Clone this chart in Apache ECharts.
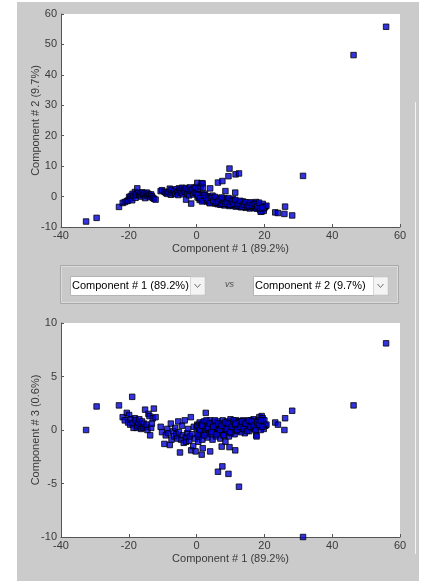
<!DOCTYPE html>
<html>
<head>
<meta charset="utf-8">
<script src="https://cdn.jsdelivr.net/npm/echarts@6/dist/echarts.min.js"></script>
<style>
  html, body { margin: 0; padding: 0; background: #ffffff; }
  #wrap { position: relative; width: 425px; height: 581px; overflow: hidden; }
  #panel { position: absolute; left: 17px; top: 2px; width: 402px; height: 579px; background: #cbcbcb; }
  #chart { position: absolute; left: 0; top: 0; width: 425px; height: 581px; }
</style>
</head>
<body>
<div id="wrap">
  <div id="panel"></div>
  <div id="chart"></div>
</div>
<script>
// Principal component labels (explained variance in brackets)
const componentNames = ['Component # 1 (89.2%)', 'Component # 2 (9.7%)', 'Component # 3 (0.6%)'];

// Score rows: [PC1, PC2, PC3]
const leftGroup = [
  [-22.9,-3.4,2.3],[-21.8,-2.1,1.2],[-21.2,-1.8,0.9],[-20.6,-1.5,1.6],[-20.2,-1.3,0.7],
  [-19.9,-0.1,1.4],[-19.6,-0.6,0.5],[-19.4,0.2,1.0],[-19.0,-1.2,3.1],[-18.9,0.9,0.6],
  [-18.6,0.3,0.2],[-18.2,1.5,1.1],[-18.0,-0.4,0.9],[-17.7,0.7,0.2],[-17.5,2.7,0.4],
  [-17.2,1.2,0.7],[-16.9,0.4,1.0],[-16.7,1.0,0.3],[-16.4,0.0,0.1],[-16.1,1.4,0.8],
  [-15.8,0.6,0.2],[-15.5,1.1,0.6],[-15.2,-0.5,1.9],[-15.0,0.8,0.3],[-14.7,1.3,0.5],
  [-14.5,0.2,0.0],[-14.2,0.9,1.5],[-13.9,0.5,1.3],[-13.7,-0.2,-0.5],[-13.4,0.7,0.2],
  [-13.2,0.1,0.6],[-12.9,-0.4,1.1],[-12.6,-0.7,2.0],[-12.1,-1.0,1.2]
];

const middleGroup = [
  [-10.6,1.8,0.3],[-10.2,2.1,-0.2],[-9.5,1.6,-1.3],[-9.1,1.2,-0.5],[-8.7,0.9,0.1],
  [-8.3,1.5,-0.3],[-7.9,2.6,-1.4],[-7.6,0.6,0.6],[-7.4,2.2,-0.9],[-7.0,1.1,-0.1],
  [-6.6,1.8,-0.6],[-6.3,0.8,0.2],[-6.0,2.4,-0.4],[-5.7,1.4,-0.8],[-5.4,0.5,0.8],
  [-5.2,2.7,-0.2],[-4.9,1.9,-2.1],[-4.6,1.2,-0.9],[-4.3,2.9,0.4],[-4.1,0.8,-0.5],
  [-3.8,2.3,-1.2],[-3.5,1.6,0.9],[-3.2,2.8,-0.7],[-3.1,-1.0,-1.1],[-2.8,1.0,-0.3],
  [-2.5,2.5,0.1],[-2.2,0.4,-1.0],[-2.0,3.0,-0.6],[-1.7,1.9,1.2],[-1.6,-2.3,-1.9],
  [-1.3,2.2,-0.4],[-1.0,0.7,-1.5],[-0.8,2.7,0.3],[-0.5,1.3,-0.8],[-0.3,3.1,-2.0],
  [0.0,1.0,0.2],[0.2,4.5,0.5],[0.5,2.6,-1.1],[0.8,-0.4,0.0],[1.2,3.3,-0.5],
  [1.5,4.4,-2.3],[1.8,4.3,-1.7],[1.9,2.9,0.7]
];

const mainBand = [
  [0.3,-0.3,0.4],[0.6,0.8,-0.6],[0.9,-1.1,0.7],[1.1,0.2,-0.2],[1.4,-0.7,0.5],
  [1.7,0.6,-0.9],[2.0,-1.3,0.3],[2.2,-0.1,0.8],[2.5,0.9,-0.3],[2.7,-0.8,1.6],
  [3.0,-1.6,0.1],[3.2,0.1,-0.7],[3.5,-0.6,0.6],[3.7,-1.9,-0.2],[4.0,-0.2,0.9],
  [4.2,-1.2,-0.4],[4.5,-2.0,0.3],[4.7,0.3,-0.9],[5.0,-0.9,0.7],[5.2,-1.7,-0.1],
  [5.5,-2.3,0.5],[5.7,-0.4,-0.6],[6.0,-1.3,0.2],[6.2,-2.5,0.8],[6.5,-0.7,-0.3],
  [6.7,-1.9,0.4],[7.0,-2.7,-0.8],[7.2,-1.0,0.6],[7.5,-1.6,-0.2],[7.7,-2.2,0.9],
  [8.0,-0.6,0.1],[8.2,-2.9,-0.5],[8.5,-1.4,0.5],[8.7,-2.1,-0.1],[9.0,-0.9,0.8],
  [9.2,-2.6,0.2],[9.5,-1.7,-0.6],[9.7,-3.1,0.4],[10.0,-1.2,1.0],[10.2,-2.3,-0.3],
  [10.5,-2.9,0.6],[10.7,-0.8,0.1],[11.0,-1.9,0.7],[11.2,-2.6,-0.4],[11.5,-3.3,0.3],
  [11.7,-1.5,0.9],[12.0,-2.2,-0.1],[12.2,-3.0,0.5],[12.5,-1.8,0.2],[12.7,-2.7,0.8],
  [13.0,-3.5,-0.2],[13.2,-2.0,0.6],[13.5,-2.9,0.1],[13.7,-1.6,0.9],[14.0,-3.2,0.4],
  [14.2,-2.4,-0.3],[14.5,-3.7,0.7],[14.7,-2.0,0.2],[15.0,-2.8,0.8],[15.2,-3.4,0.3],
  [15.5,-2.3,-0.1],[15.7,-3.9,0.6],[16.0,-2.6,0.9],[16.2,-3.3,0.2],[16.5,-2.1,0.5],
  [16.8,-3.7,1.0],[17.0,-2.9,0.1],[17.3,-3.4,0.7],[17.6,-1.8,-0.5],[17.7,-4.0,-0.6],
  [18.0,-2.6,0.4],[18.2,-3.6,0.9],[18.5,-3.0,1.2],[18.7,-4.3,0.3],[19.0,-3.3,0.8],
  [19.2,-4.9,1.3],[19.5,-2.4,1.1],[19.7,-4.1,0.6],[20.0,-3.7,0.9],[20.3,-3.3,0.4],
  [20.6,-3.0,0.5],[19.8,-4.7,0.1],[18.9,-5.0,0.0],
  [0.4,0.5,-0.4],[1.0,-0.5,0.0],[1.6,-1.6,0.4],[2.3,0.4,-0.5],[2.9,-0.4,0.9],
  [3.4,-1.1,0.2],[3.9,-2.2,0.6],[4.4,-0.5,-0.2],[4.9,-1.4,0.3],[5.4,-0.1,0.9],
  [5.9,-2.0,-0.4],[6.4,-1.6,0.6],[6.9,-0.9,0.0],[7.4,-2.4,0.4],[7.9,-1.3,-0.5],
  [8.4,-2.4,0.7],[8.9,-1.8,0.1],[9.4,-0.5,0.6],[9.9,-2.7,-0.2],[10.4,-1.6,0.3],
  [10.9,-2.4,0.9],[11.4,-1.1,0.5],[11.9,-2.9,0.0],[12.4,-2.4,0.7],[12.9,-1.4,0.3],
  [13.4,-3.4,0.8],[13.9,-2.6,0.1],[14.4,-1.9,0.6],[14.9,-3.3,-0.1],[15.4,-2.9,0.9],
  [15.9,-1.9,0.3],[16.4,-2.9,0.8],[16.9,-2.4,0.4],[17.4,-2.5,0.0],[17.9,-3.2,0.7],
  [18.4,-2.0,0.5],[18.9,-3.9,0.9],[19.4,-3.6,0.3]
];

const outliers = [
  [-32.6,-8.2,0.0],[-29.5,-7.0,2.2],[4.0,2.7,-2.0],[6.3,4.6,-3.9],[7.6,5.1,-3.4],
  [8.5,1.8,-1.1],[9.4,6.7,-4.1],[9.7,9.2,-1.6],[11.5,7.3,0.6],[12.5,7.6,-5.3],
  [11.4,1.3,-1.9],[7.4,-0.3,-1.55],[23.2,-5.2,0.7],[24.0,-5.4,0.5],[26.1,-3.3,1.1],
  [25.9,-5.7,0.0],[28.2,-6.2,1.8],[31.4,6.8,-10.0],[46.3,46.5,2.3],[55.9,55.8,8.1]
];

const scores = leftGroup.concat(middleGroup, mainBand, outliers);

// Axis ranges
const pc1Range = { min: -40, max: 60, interval: 20 };
const pc2Range = { min: -10, max: 60, interval: 10 };
const pc3Range = { min: -10, max: 10, interval: 5 };

const FONT = 'Liberation Sans, Arial, sans-serif';
const axisColor = '#555555';
const labelColor = '#3a3a3a';

function valueAxis(range, name, gridIndex, isY) {
  return {
    type: 'value',
    gridIndex: gridIndex,
    min: range.min, max: range.max, interval: range.interval,
    name: name,
    nameLocation: 'middle',
    nameGap: isY ? 20 : 16,
    nameMoveOverlap: false,
    nameTextStyle: { fontFamily: FONT, fontSize: 11, color: labelColor },
    axisLine: { show: true, onZero: false, lineStyle: { color: axisColor, width: 1 } },
    axisTick: { show: true, inside: true, length: 3, lineStyle: { color: axisColor } },
    axisLabel: { fontFamily: FONT, fontSize: 11, color: labelColor, margin: isY ? 4 : 3 },
    splitLine: { show: false }
  };
}

const markerStyle = { color: '#0000d8', borderColor: '#000000', borderWidth: 1 };

const chart = echarts.init(document.getElementById('chart'), null, { renderer: 'canvas' });

// Selector bar between the two plots
const selector = [
  { type: 'rect', shape: { x: 60.5, y: 265.5, width: 338, height: 38 },
    style: { fill: '#c9c9c9', stroke: '#a9a9a9', lineWidth: 1 } },
  { type: 'rect', shape: { x: 61.5, y: 266.5, width: 336, height: 36 },
    style: { fill: 'none', stroke: '#dcdcdc', lineWidth: 1 } },
  // first dropdown
  { type: 'rect', shape: { x: 70.5, y: 276.5, width: 135, height: 19 },
    style: { fill: '#ffffff', stroke: '#b4b4b4', lineWidth: 1 } },
  { type: 'rect', shape: { x: 190.5, y: 277, width: 14.5, height: 18 },
    style: { fill: '#f4f4f4', stroke: '#d8d8d8', lineWidth: 1 } },
  { type: 'polyline', shape: { points: [[194.5, 284], [197.5, 287.5], [200.5, 284]] },
    style: { stroke: '#707070', lineWidth: 1, fill: 'none' } },
  { type: 'text', x: 72, y: 286,
    style: { text: componentNames[0], fontFamily: FONT, fontSize: 11, fill: '#000', verticalAlign: 'middle' } },
  // "vs"
  { type: 'text', x: 229.5, y: 284,
    style: { text: 'vs', fontFamily: FONT, fontSize: 9, fontStyle: 'italic', fill: '#505050',
             align: 'center', verticalAlign: 'middle' } },
  // second dropdown
  { type: 'rect', shape: { x: 253.5, y: 276.5, width: 135, height: 19 },
    style: { fill: '#ffffff', stroke: '#b4b4b4', lineWidth: 1 } },
  { type: 'rect', shape: { x: 373.5, y: 277, width: 14.5, height: 18 },
    style: { fill: '#f4f4f4', stroke: '#d8d8d8', lineWidth: 1 } },
  { type: 'polyline', shape: { points: [[377.5, 284], [380.5, 287.5], [383.5, 284]] },
    style: { stroke: '#707070', lineWidth: 1, fill: 'none' } },
  { type: 'text', x: 255, y: 286,
    style: { text: componentNames[1], fontFamily: FONT, fontSize: 11, fill: '#000', verticalAlign: 'middle' } },
  // scroll pane edge on the right
  { type: 'line', shape: { x1: 415.5, y1: 102, x2: 415.5, y2: 554 },
    style: { stroke: '#f4f4f4', lineWidth: 1 } }
];

chart.setOption({
  animation: false,
  backgroundColor: 'transparent',
  grid: [
    { left: 61, top: 14, width: 339, height: 213, show: true, backgroundColor: '#ffffff', borderWidth: 0 },
    { left: 61, top: 323, width: 339, height: 214, show: true, backgroundColor: '#ffffff', borderWidth: 0 }
  ],
  xAxis: [
    valueAxis(pc1Range, componentNames[0], 0, false),
    valueAxis(pc1Range, componentNames[0], 1, false)
  ],
  yAxis: [
    valueAxis(pc2Range, componentNames[1], 0, true),
    valueAxis(pc3Range, componentNames[2], 1, true)
  ],
  graphic: selector,
  series: [
    {
      type: 'scatter', xAxisIndex: 0, yAxisIndex: 0, clip: false,
      symbol: 'rect', symbolSize: 5.5, itemStyle: markerStyle,
      data: scores.map(r => [r[0], r[1]])
    },
    {
      type: 'scatter', xAxisIndex: 1, yAxisIndex: 1, clip: false,
      symbol: 'rect', symbolSize: 5.5, itemStyle: markerStyle,
      data: scores.map(r => [r[0], r[2]])
    }
  ]
});
</script>
</body>
</html>
